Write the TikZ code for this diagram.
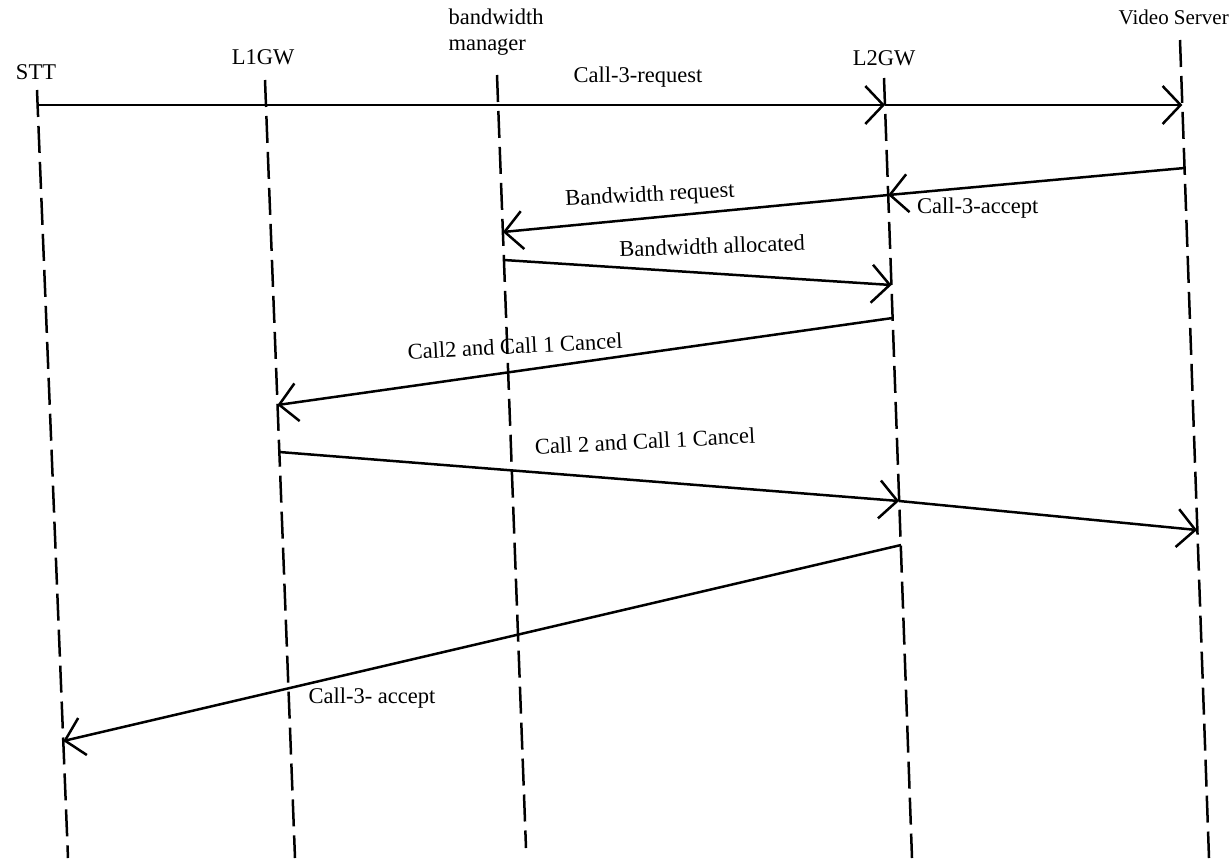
\documentclass[tikz,border=0pt]{standalone}
\usepackage{fontspec}
\setmainfont{Liberation Serif}
\usetikzlibrary{arrows.meta}
\begin{document}
\begin{tikzpicture}[x=1pt,y=-1pt,
  life/.style={line width=2.5pt, dash pattern=on 27pt off 9pt},
  msg/.style={line width=2.5pt, -{Straight Barb[length=18pt,width=38pt,line width=2.5pt]}},
  lbl/.style={font=\fontsize{22.5}{26}\selectfont, inner sep=0pt},
  ]
\useasboundingbox[fill=white] (0,0) rectangle (1231,863);
% lifelines
\coordinate (stt-t) at (37,90);   \coordinate (stt-b) at (68,858);
\coordinate (l1-t) at (265,80);   \coordinate (l1-b) at (295,858);
\coordinate (bm-t) at (497,75);   \coordinate (bm-b) at (526,848);
\coordinate (l2-t) at (884,78);   \coordinate (l2-b) at (912,858);
\coordinate (vs-t) at (1180,40);  \coordinate (vs-b) at (1209,858);
\foreach \n in {stt,l1,bm,l2,vs}{\draw[life] (\n-t) -- (\n-b);}
% header labels
\node[lbl] (sttl) at (36,72) {STT};
\node[lbl] (l1l) at (263,57) {L1GW};
\node[lbl, align=left] (bml) at (496,32) {bandwidth\\manager};
\node[lbl] (l2l) at (884,58) {L2GW};
\node[lbl, anchor=east, font=\fontsize{21}{24}\selectfont] (vsl) at (1229,17) {Video Server};
% message points
\coordinate (m1a) at (37.5,105);  \coordinate (m1b) at (885,105);   \coordinate (m1c) at (1182.3,105);
\coordinate (m2a) at (1184.5,168); \coordinate (m2b) at (888.2,195); \coordinate (m2c) at (502.9,232);
\coordinate (m3a) at (503.9,260); \coordinate (m3b) at (891.5,285);
\coordinate (m4a) at (892.6,318); \coordinate (m4b) at (277.5,405);
\coordinate (m5a) at (279.3,452); \coordinate (m5b) at (899.1,501); \coordinate (m5c) at (1197,530);
\coordinate (m6a) at (901,545); \coordinate (m6b) at (63.3,741);
% messages
\draw[msg] (m1a) -- (m1b);
\draw[msg] (m1b) -- (m1c);
\draw[msg] (m2a) -- (m2b);
\draw[msg] (m2b) -- (m2c);
\draw[msg] (m3a) -- (m3b);
\draw[msg] (m4a) -- (m4b);
\draw[msg] (m5a) -- (m5b);
\draw[msg] (m5b) -- (m5c);
\draw[msg] (m6a) -- (m6b);
% message labels
\node[lbl] (t1) at (638,77) {Call-3-request};
\node[lbl, rotate=3] (t2) at (650,196) {Bandwidth request};
\node[lbl, anchor=west] (t2b) at (917,208) {Call-3-accept};
\node[lbl, rotate=2] (t3) at (712,246) {Bandwidth allocated};
\node[lbl, rotate=3] (t4) at (515,346) {Call2 and Call 1 Cancel};
\node[lbl, rotate=3] (t5) at (645,441) {Call 2 and Call 1 Cancel};
\node[lbl] (t6) at (372,698) {Call-3- accept};
\end{tikzpicture}
\end{document}
